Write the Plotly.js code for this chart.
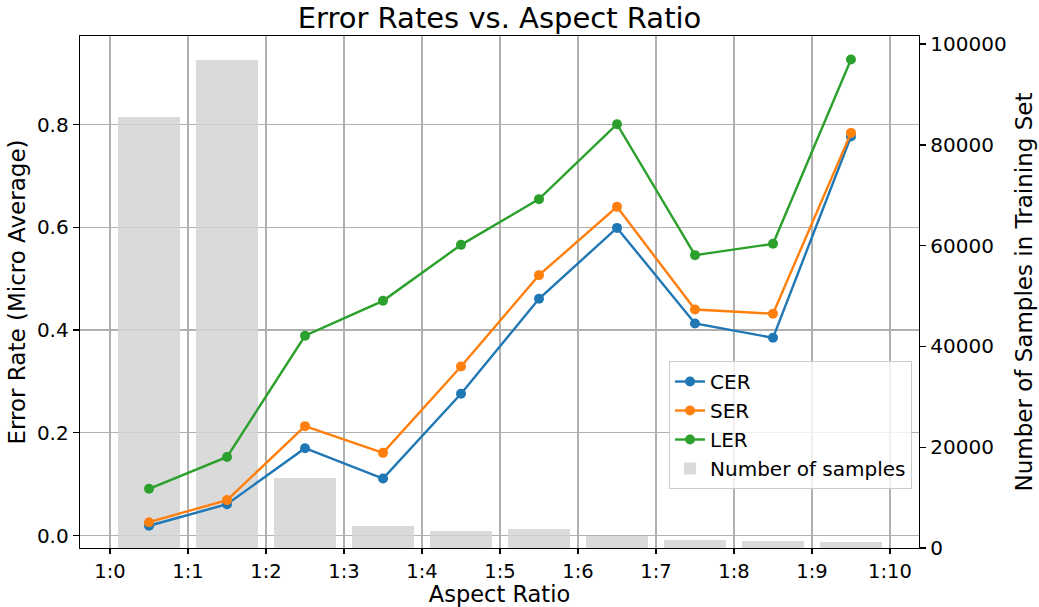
<!DOCTYPE html>
<html>
<head>
<meta charset="utf-8">
<script src="https://cdn.plot.ly/plotly-3.0.1.min.js"></script>
<style>html,body{margin:0;padding:0;background:#fff;}#chart{width:1039px;height:607px;}</style>
</head>
<body>
<div id="chart"></div>
<script>
// Tick labels (bin boundaries) and data
const tickLabels = ['1:0','1:1','1:2','1:3','1:4','1:5','1:6','1:7','1:8','1:9','1:10'];
const cer = [0.019, 0.061, 0.170, 0.111, 0.276, 0.461, 0.599, 0.413, 0.385, 0.777];
const ser = [0.026, 0.069, 0.213, 0.161, 0.329, 0.507, 0.640, 0.440, 0.432, 0.784];
const ler = [0.091, 0.153, 0.389, 0.457, 0.566, 0.655, 0.801, 0.546, 0.568, 0.927];
const samples = [85500, 96800, 13800, 4420, 3430, 3830, 2440, 1650, 1450, 1250];

const binCenters = samples.map((_, i) => i + 0.5);
const tickVals = tickLabels.map((_, i) => i);

const FONT = 'DejaVu Sans, Liberation Sans, sans-serif';
const lineW = 2.4, markerSize = 10;

const traces = [
  {type:'bar', x: binCenters, y: samples, width: 0.8, name: 'Number of samples',
   marker:{color:'rgba(211,211,211,0.85)', line:{width:0}}, xaxis:'x', yaxis:'y', legendrank: 4},
  {type:'scatter', mode:'lines+markers', x: binCenters, y: cer, name:'CER',
   line:{color:'#1f77b4', width: lineW}, marker:{color:'#1f77b4', size: markerSize}, xaxis:'x', yaxis:'y2', legendrank: 1},
  {type:'scatter', mode:'lines+markers', x: binCenters, y: ser, name:'SER',
   line:{color:'#ff7f0e', width: lineW}, marker:{color:'#ff7f0e', size: markerSize}, xaxis:'x', yaxis:'y2', legendrank: 2},
  {type:'scatter', mode:'lines+markers', x: binCenters, y: ler, name:'LER',
   line:{color:'#2ca02c', width: lineW}, marker:{color:'#2ca02c', size: markerSize}, xaxis:'x', yaxis:'y2', legendrank: 3}
];

const tickFont = {family: FONT, size: 20, color:'#000'};
const titleFont = {family: FONT, size: 23, color:'#000'};

const layout = {
  width: 1039, height: 607,
  margin: {l: 80, r: 120, t: 36, b: 59},
  paper_bgcolor: '#fff', plot_bgcolor: '#fff',
  font: {family: FONT, color:'#000'},
  showlegend: true,
  title: {text: 'Error Rates vs. Aspect Ratio', font: {family: FONT, size: 29, color:'#000'},
          x: 0.5, xref: 'paper', xanchor: 'center', y: 0.971, yref: 'container', yanchor: 'middle'},
  xaxis: {
    range: [-0.385, 10.372], tickmode: 'array', tickvals: tickVals, ticktext: tickLabels,
    showgrid: true, gridcolor: '#b0b0b0', gridwidth: 1.3, zeroline: false,
    showline: true, linecolor: '#000', linewidth: 1.3, mirror: true,
    ticks: 'outside', ticklen: 5, tickwidth: 1.3, tickcolor: '#000',
    tickfont: {family: FONT, size: 19.5, color:'#000'},
    title: {text: 'Aspect Ratio', font: {family: FONT, size: 22.5, color:'#000'}, standoff: 4},
    anchor: 'y'
  },
  yaxis: {
    range: [0, 101600], side: 'right', tickmode: 'array',
    tickvals: [0, 20000, 40000, 60000, 80000, 100000],
    ticktext: ['0','20000','40000','60000','80000','100000'],
    showgrid: false, zeroline: false,
    showline: true, linecolor: '#000', linewidth: 1.3,
    ticks: 'outside', ticklen: 6, tickwidth: 1.3, tickcolor: '#000',
    tickfont: tickFont,
    title: {text: 'Number of Samples in Training Set', font: titleFont, standoff: 10},
    anchor: 'x'
  },
  yaxis2: {
    range: [-0.0243, 0.9727], side: 'left', overlaying: 'y', tickmode: 'array',
    tickvals: [0, 0.2, 0.4, 0.6, 0.8], ticktext: ['0.0','0.2','0.4','0.6','0.8'],
    showgrid: true, gridcolor: '#b0b0b0', gridwidth: 1.3, zeroline: false,
    showline: true, linecolor: '#000', linewidth: 1.3,
    ticks: 'outside', ticklen: 6, tickwidth: 1.3, tickcolor: '#000',
    tickfont: tickFont,
    title: {text: 'Error Rate (Micro Average)', font: titleFont, standoff: 4},
    anchor: 'x'
  },
  legend: {
    x: 0.9917, xanchor: 'right', y: 0.1152, yanchor: 'bottom',
    bgcolor: 'rgba(255,255,255,0.8)', bordercolor: '#cccccc', borderwidth: 1,
    font: {family: FONT, size: 20, color:'#000'},
    traceorder: 'normal', itemwidth: 30
  },
  bargap: 0
};

Plotly.newPlot('chart', traces, layout, {displayModeBar: false, staticPlot: true});
</script>
</body>
</html>
